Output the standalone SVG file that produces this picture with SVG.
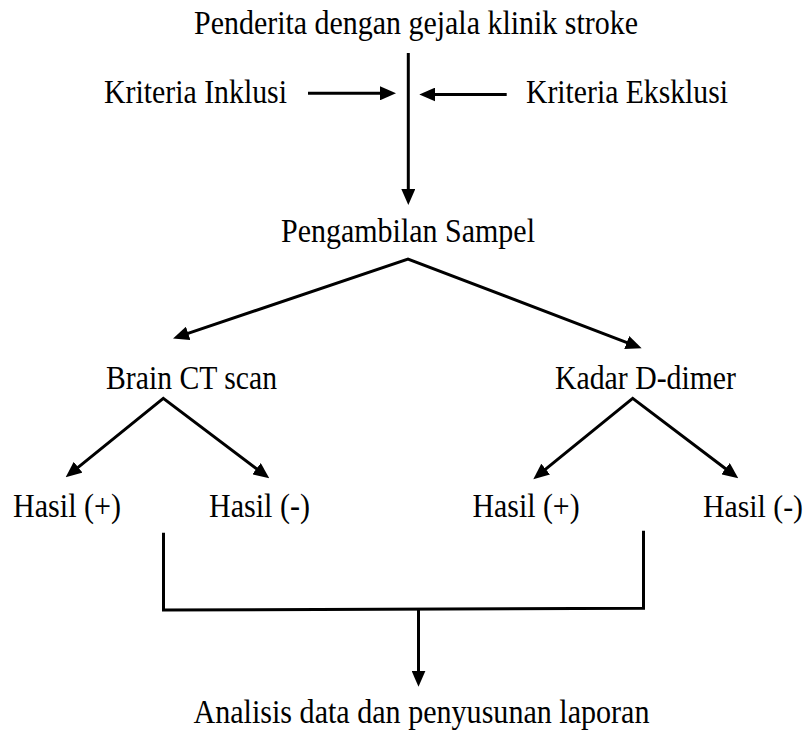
<svg xmlns="http://www.w3.org/2000/svg" width="810" height="734" viewBox="0 0 810 734">
  <style>
    .lbl { font-family: "Liberation Serif", "Times New Roman", serif; font-size: 33px; fill: #000; }
    .ln { fill: none; stroke: #000; stroke-width: 3; stroke-linejoin: miter; }
  </style>
  <defs>
    <marker id="ah" viewBox="0 0 16 14" markerWidth="16" markerHeight="14" refX="8" refY="7" orient="auto-start-reverse" markerUnits="userSpaceOnUse">
      <path d="M0,0 L16,7 L0,14 z" fill="#000"/>
    </marker>
  </defs>
  <rect width="810" height="734" fill="#fff"/>

  <g id="connectors">
    <line class="ln" x1="408.3" y1="53" x2="408.3" y2="197" marker-end="url(#ah)"/>
    <line class="ln" x1="308" y1="93.3" x2="388" y2="93.3" marker-end="url(#ah)"/>
    <line class="ln" x1="506.7" y1="94.5" x2="427.3" y2="94.5" marker-end="url(#ah)"/>
    <path class="ln" d="M180.6,335.9 L408,259 L634.2,345.4" marker-start="url(#ah)" marker-end="url(#ah)"/>
    <path class="ln" d="M71.9,472.3 L163.3,398.3 L262.9,473.5" marker-start="url(#ah)" marker-end="url(#ah)"/>
    <path class="ln" d="M539.5,474.2 L632.7,398.3 L731.9,473.5" marker-start="url(#ah)" marker-end="url(#ah)"/>
    <path class="ln" d="M163.5,532.7 V610 L643.5,608.3 V530.7"/>
    <line class="ln" x1="418.5" y1="609" x2="418.5" y2="678.7" marker-end="url(#ah)"/>
  </g>

  <g id="penderita"><text class="lbl" x="194" y="33.5" textLength="444" lengthAdjust="spacingAndGlyphs">Penderita dengan gejala klinik stroke</text></g>
  <g id="inklusi"><text class="lbl" x="104" y="103.3" textLength="183" lengthAdjust="spacingAndGlyphs">Kriteria Inklusi</text></g>
  <g id="eksklusi"><text class="lbl" x="526" y="103.3" textLength="202" lengthAdjust="spacingAndGlyphs">Kriteria Eksklusi</text></g>
  <g id="sampel"><text class="lbl" x="281" y="242" textLength="254" lengthAdjust="spacingAndGlyphs">Pengambilan Sampel</text></g>
  <g id="ctscan"><text class="lbl" x="106" y="389" textLength="171" lengthAdjust="spacingAndGlyphs">Brain CT scan</text></g>
  <g id="ddimer"><text class="lbl" x="555" y="389" textLength="181" lengthAdjust="spacingAndGlyphs">Kadar D-dimer</text></g>
  <g id="ct-pos"><text class="lbl" x="13" y="517" textLength="108" lengthAdjust="spacingAndGlyphs">Hasil (+)</text></g>
  <g id="ct-neg"><text class="lbl" x="209" y="517" textLength="101" lengthAdjust="spacingAndGlyphs">Hasil (-)</text></g>
  <g id="dd-pos"><text class="lbl" x="472.6" y="517" textLength="107" lengthAdjust="spacingAndGlyphs">Hasil (+)</text></g>
  <g id="dd-neg"><text class="lbl" x="703" y="517" style="font-size:31px" textLength="100" lengthAdjust="spacingAndGlyphs">Hasil (-)</text></g>
  <g id="analisis"><text class="lbl" x="193.5" y="723" textLength="456" lengthAdjust="spacingAndGlyphs">Analisis data dan penyusunan laporan</text></g>
</svg>
